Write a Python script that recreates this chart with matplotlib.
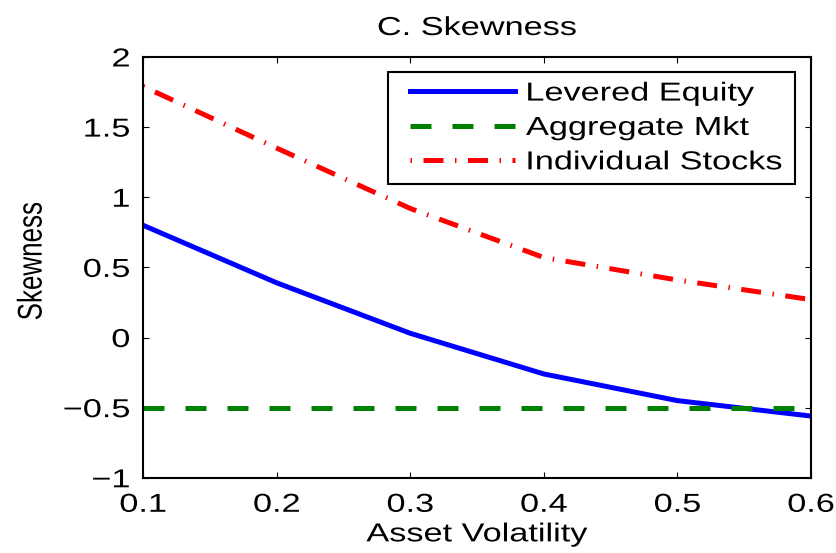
import numpy as np
import matplotlib
matplotlib.use("Agg")
import matplotlib.pyplot as plt
from matplotlib.patheffects import AbstractPathEffect
from matplotlib.transforms import Affine2D
from matplotlib.legend_handler import HandlerLine2D
from matplotlib.lines import Line2D

plt.rcParams['font.family'] = ['Liberation Sans', 'DejaVu Sans']

asset_vol = [0.1, 0.2, 0.3, 0.4, 0.5, 0.6]
levered_equity = [0.80, 0.39, 0.03, -0.26, -0.45, -0.56]
aggregate_mkt = [-0.5, -0.5, -0.5, -0.5, -0.5, -0.5]
individual_stocks = [1.79, 1.35, 0.92, 0.57, 0.41, 0.27]

xtick_labels = ['0.1', '0.2', '0.3', '0.4', '0.5', '0.6']
yticks = [-1, -0.5, 0, 0.5, 1, 1.5, 2]
ytick_labels = ['\u22121', '\u22120.5', '0', '0.5', '1', '1.5', '2']


class WideText(AbstractPathEffect):
    """Draw text glyphs stretched horizontally (wide export look)."""

    def __init__(self, sx=1.32, anchor='center'):
        super().__init__()
        self.sx = sx
        self.anchor = anchor

    def draw_path(self, renderer, gc, tpath, affine, rgbFace=None):
        ext = tpath.get_extents(affine)
        if self.anchor == 'right':
            x0 = ext.x1
        elif self.anchor == 'left':
            x0 = ext.x0
        else:
            x0 = 0.5 * (ext.x0 + ext.x1)
        t = affine + Affine2D().translate(-x0, 0).scale(self.sx, 1).translate(x0, 0)
        renderer.draw_path(gc, tpath, t, rgbFace)


fs = 18.7
lw = 3.6

fig = plt.figure(figsize=(8.37, 5.53), dpi=100)
ax = fig.add_axes([0.171, 0.136, 0.798, 0.761])

ax.plot(asset_vol, levered_equity, color='blue', lw=lw, label='Levered Equity')
ax.plot(asset_vol, aggregate_mkt, color='green', lw=lw, dashes=(4.2, 4.2),
        dash_capstyle='butt', label='Aggregate Mkt')
ax.plot(asset_vol, individual_stocks, color='red', lw=lw, dashes=(0.3, 2.3, 4.0, 2.3),
        dash_capstyle='butt', label='Individual Stocks')

ax.set_xlim(0.1, 0.6)
ax.set_ylim(-1, 2)
ax.set_xticks(asset_vol)
ax.set_xticklabels(xtick_labels)
ax.set_yticks(yticks)
ax.set_yticklabels(ytick_labels)
ax.tick_params(direction='in', top=True, right=True, length=4.3, width=0.8,
               labelsize=fs)
ax.tick_params(axis='x', pad=10.8)
ax.tick_params(axis='y', pad=9.4)
for s in ax.spines.values():
    s.set_linewidth(1.5)

for lab in ax.get_xticklabels():
    lab.set_path_effects([WideText()])
for lab in ax.get_yticklabels():
    lab.set_path_effects([WideText(anchor='right')])

title = ax.set_title('C. Skewness', fontsize=fs, pad=15.8)
title.set_path_effects([WideText()])
xl = ax.set_xlabel('Asset Volatility', fontsize=fs, labelpad=4)
xl.set_path_effects([WideText()])
yl = ax.set_ylabel('Skewness', fontsize=fs)
yl.set_path_effects([WideText()])
ax.yaxis.set_label_coords(-0.149, 0.515)

leg = ax.legend(loc='upper left', bbox_to_anchor=(0.3668, 0.0, 0.6093, 0.9644),
                mode='expand', borderaxespad=0, fontsize=fs, fancybox=False,
                framealpha=1, edgecolor='black', borderpad=0.37,
                labelspacing=0.4, handlelength=4.52, handletextpad=0.42,
                handler_map={Line2D: HandlerLine2D(xpad=0.48)})
leg.get_frame().set_linewidth(1.5)
for t in leg.get_texts():
    t.set_path_effects([WideText(anchor='left')])

fig.savefig('out.png', dpi=100)
